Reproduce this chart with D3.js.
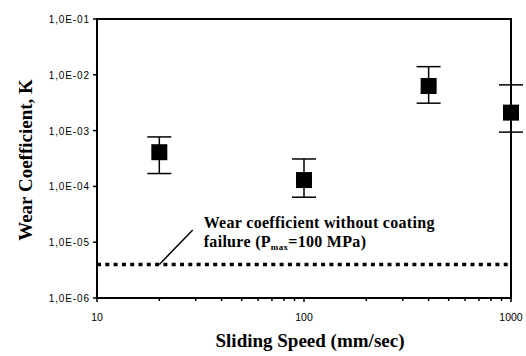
<!DOCTYPE html>
<html>
<head>
<meta charset="utf-8">
<script src="https://cdn.jsdelivr.net/npm/d3@7"></script>
<style>
  body { margin: 0; background: #fff; }
  svg { display: block; }
</style>
</head>
<body>
<div id="chart"></div>
<script>
(function() {
  // sliding speed (mm/sec) and wear coefficient K
  const speeds = [20, 100, 400, 1000];
  const wearK = [4.1e-4, 1.3e-4, 6.3e-3, 2.1e-3];
  const wearHigh = [7.7e-4, 3.1e-4, 1.4e-2, 6.6e-3];
  const wearLow = [1.7e-4, 6.4e-5, 3.1e-3, 9.4e-4];
  const noFailureK = 4e-6;
  const xTicks = [10, 100, 1000];
  const yTicks = [1e-6, 1e-5, 1e-4, 1e-3, 1e-2, 1e-1];
  const leader = [[20, 4e-6], [29, 1.65e-5]];

  const width = 526, height = 356;
  const margin = {top: 19, right: 15, bottom: 58, left: 97};

  const svg = d3.select("#chart").append("svg")
      .attr("width", width)
      .attr("height", height);

  const x = d3.scaleLog().domain([10, 1000]).range([margin.left, width - margin.right]);
  const y = d3.scaleLog().domain([1e-6, 1e-1]).range([height - margin.bottom, margin.top]);

  const sans = "Liberation Sans, Arial, sans-serif";
  const serif = "Liberation Serif, Times New Roman, serif";

  // frame
  svg.append("rect")
      .attr("x", x(10)).attr("y", y(1e-1))
      .attr("width", x(1000) - x(10)).attr("height", y(1e-6) - y(1e-1))
      .attr("fill", "none").attr("stroke", "#000").attr("stroke-width", 2);

  // x axis minor ticks (downward)
  const xMinor = x.ticks().filter(d => xTicks.indexOf(d) < 0);
  svg.append("g").selectAll("line").data(xMinor).enter().append("line")
      .attr("x1", d => x(d)).attr("x2", d => x(d))
      .attr("y1", y(1e-6)).attr("y2", y(1e-6) + 3)
      .attr("stroke", "#000").attr("stroke-width", 1.5);
  svg.append("g").selectAll("line").data(xTicks).enter().append("line")
      .attr("x1", d => x(d)).attr("x2", d => x(d))
      .attr("y1", y(1e-6)).attr("y2", y(1e-6) + 4)
      .attr("stroke", "#000").attr("stroke-width", 1.5);

  svg.append("g").selectAll("text").data(xTicks).enter().append("text")
      .attr("x", d => x(d)).attr("y", y(1e-6) + 23)
      .attr("text-anchor", "middle")
      .style("font-family", sans).style("font-size", "10.5px")
      .text(d => d);

  // y axis ticks
  svg.append("g").selectAll("line").data(yTicks).enter().append("line")
      .attr("x1", margin.left - 4).attr("x2", margin.left)
      .attr("y1", d => y(d)).attr("y2", d => y(d))
      .attr("stroke", "#000").attr("stroke-width", 1.5);

  const fmt = d => "1,0E-" + String(Math.round(-Math.log10(d))).padStart(2, "0");
  svg.append("g").selectAll("text").data(yTicks).enter().append("text")
      .attr("x", margin.left - 7).attr("y", d => y(d) + 4)
      .attr("text-anchor", "end")
      .style("font-family", sans).style("font-size", "10px")
      .style("letter-spacing", "0.9px")
      .text(fmt);

  // axis titles
  svg.append("text")
      .attr("x", 310).attr("y", 347)
      .attr("text-anchor", "middle")
      .style("font-family", serif).style("font-size", "19px").style("font-weight", "bold")
      .text("Sliding Speed (mm/sec)");

  svg.append("text")
      .attr("transform", "translate(32,160) rotate(-90)")
      .attr("text-anchor", "middle")
      .style("font-family", serif).style("font-size", "19px").style("font-weight", "bold")
      .text("Wear Coefficient, K");

  // reference line: no coating failure
  svg.append("line")
      .attr("x1", x(10)).attr("x2", x(1000) - 3)
      .attr("y1", y(noFailureK)).attr("y2", y(noFailureK))
      .attr("stroke", "#000").attr("stroke-width", 3.5)
      .attr("stroke-dasharray", "4,4.3");

  svg.append("line")
      .attr("x1", x(leader[0][0])).attr("y1", y(leader[0][1]))
      .attr("x2", x(leader[1][0])).attr("y2", y(leader[1][1]))
      .attr("stroke", "#000").attr("stroke-width", 1.5);

  const note = svg.append("text")
      .style("font-family", serif).style("font-size", "16px").style("font-weight", "bold")
      .style("letter-spacing", "0.3px");
  note.append("tspan")
      .attr("x", x(leader[1][0]) + 11).attr("y", y(leader[1][1]) - 2)
      .text("Wear coefficient without coating");
  note.append("tspan")
      .attr("x", x(leader[1][0]) + 11).attr("dy", 19)
      .text("failure (P");
  note.append("tspan").attr("dy", 3).style("font-size", "9px").text("max");
  note.append("tspan").attr("dy", -3).text("=100 MPa)");

  // error bars
  const idx = d3.range(speeds.length);
  const bars = svg.append("g").attr("stroke", "#000").attr("stroke-width", 1.5);
  bars.selectAll(".stem").data(idx).enter().append("line")
      .attr("x1", i => x(speeds[i])).attr("x2", i => x(speeds[i]))
      .attr("y1", i => y(wearHigh[i])).attr("y2", i => y(wearLow[i]));
  bars.selectAll(".capHi").data(idx).enter().append("line")
      .attr("x1", i => x(speeds[i]) - 12).attr("x2", i => x(speeds[i]) + 12)
      .attr("y1", i => y(wearHigh[i])).attr("y2", i => y(wearHigh[i]));
  bars.selectAll(".capLo").data(idx).enter().append("line")
      .attr("x1", i => x(speeds[i]) - 12).attr("x2", i => x(speeds[i]) + 12)
      .attr("y1", i => y(wearLow[i])).attr("y2", i => y(wearLow[i]));

  // markers
  const s = 16;
  svg.append("g").selectAll("rect").data(idx).enter().append("rect")
      .attr("x", i => x(speeds[i]) - s / 2)
      .attr("y", i => y(wearK[i]) - s / 2)
      .attr("width", s).attr("height", s)
      .attr("fill", "#000");
})();
</script>
</body>
</html>
